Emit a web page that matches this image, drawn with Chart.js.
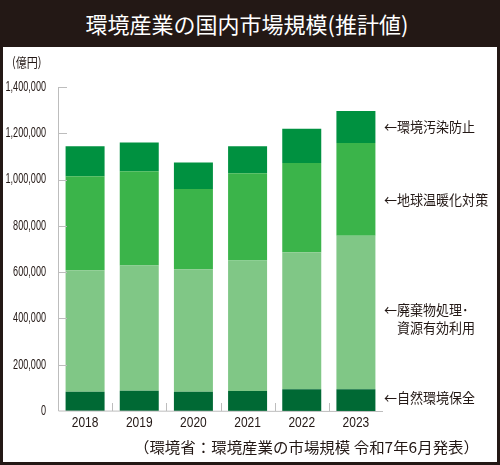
<!DOCTYPE html>
<html lang="ja">
<head>
    <meta charset="UTF-8">
    <title>環境産業の国内市場規模（推計値）</title>
    <style>
        body {
            margin: 0;
            padding: 0;
            background-color: #fff;
        }
        .frame {
            width: 500px;
            height: 465px;
            box-sizing: border-box;
            background-color: #231815;
            padding: 0 3px 3px 3px;
        }
        .title {
            height: 47px;
            line-height: 47px;
            color: #fff;
            text-align: center;
            font-family: "Noto Sans CJK JP", sans-serif;
            font-size: 22px;
            padding-right: 6px;
        }
        .box {
            position: relative;
            width: 494px;
            height: 415px;
            background-color: #fff;
        }
    </style>
</head>
<body>

<div class="frame">
    <div class="title">環境産業の国内市場規模(推計値)</div>
    <div class="box">
        <canvas id="chart"></canvas>
    </div>
</div>

<script src="https://cdn.jsdelivr.net/npm/chart.js"></script>
<script>
    const years = ['2018', '2019', '2020', '2021', '2022', '2023'];
    // 億円
    const shizenHozen = [83300, 87600, 83300, 86300, 93700, 93700];
    const haikibutsu = [525400, 541400, 529700, 564200, 592700, 663100];
    const ondankaTaisaku = [405800, 407000, 346700, 376900, 385600, 401500];
    const osenBoshi = [129500, 124000, 113900, 116600, 148000, 137700];
    const yTicks = [0, 200000, 400000, 600000, 800000, 1000000, 1200000, 1400000];

    const inkColor = '#231815';
    const axisColor = '#bdbdbd';
    const jpFont = '"Noto Sans CJK JP", sans-serif';
    const numFont = '"Liberation Sans", Arial, sans-serif';

    // the reference uses a condensed face, so text is squeezed horizontally
    function drawText(ctx, text, x, y, font, align, sx) {
        ctx.save();
        ctx.font = font;
        ctx.fillStyle = inkColor;
        ctx.textBaseline = 'middle';
        ctx.textAlign = align;
        ctx.translate(x, y);
        ctx.scale(sx, 1);
        ctx.fillText(text, 0, 0);
        ctx.restore();
    }

    // axis lines, inner tick marks, tick labels and the text round the plot
    const decorations = {
        id: 'decorations',
        afterDraw(chart) {
            const ctx = chart.ctx;
            const x = chart.scales.x, y = chart.scales.y;
            const left = chart.chartArea.left, right = chart.chartArea.right;
            const bottom = y.getPixelForValue(0);
            const top = y.getPixelForValue(yTicks[yTicks.length - 1]);

            ctx.save();
            ctx.strokeStyle = axisColor;
            ctx.lineWidth = 1;
            ctx.beginPath();
            ctx.moveTo(left + 0.5, top);
            ctx.lineTo(left + 0.5, bottom);
            ctx.lineTo(right, bottom + 0.5);
            yTicks.slice(1).forEach(v => {
                const py = Math.round(y.getPixelForValue(v)) + 0.5;
                ctx.moveTo(left, py);
                ctx.lineTo(left + 9, py);
            });
            for (let i = 1; i < years.length; i++) {
                const px = Math.round((x.getPixelForValue(i - 1) + x.getPixelForValue(i)) / 2) + 0.5;
                ctx.moveTo(px, bottom);
                ctx.lineTo(px, bottom - 8);
            }
            ctx.stroke();
            ctx.restore();

            yTicks.forEach(v => {
                drawText(ctx, v.toLocaleString('en-US'), left - 12, y.getPixelForValue(v),
                    '14px ' + numFont, 'right', 0.65);
            });
            years.forEach((lab, i) => {
                drawText(ctx, lab, x.getPixelForValue(i), bottom + 12, '15px ' + numFont, 'center', 0.8);
            });

            drawText(ctx, '(億円)', 9, 15, '13px ' + jpFont, 'left', 0.85);

            const lx = 381;
            const lf = '14px ' + jpFont;
            drawText(ctx, '←環境汚染防止', lx, 80, lf, 'left', 0.93);
            drawText(ctx, '←地球温暖化対策', lx, 153, lf, 'left', 0.93);
            drawText(ctx, '←廃棄物処理･', lx, 263, lf, 'left', 0.93);
            drawText(ctx, '資源有効利用', lx + 13, 281, lf, 'left', 0.93);
            drawText(ctx, '←自然環境保全', lx, 351, lf, 'left', 0.93);

            drawText(ctx, '（環境省：環境産業の市場規模 令和7年6月発表）', 476, 400, '15px ' + jpFont, 'right', 1.03);
        }
    };

    const ctx = document.getElementById('chart').getContext('2d');
    new Chart(ctx, {
        type: 'bar',
        data: {
            labels: years,
            datasets: [
                { label: '自然環境保全', data: shizenHozen, backgroundColor: '#006934' },
                { label: '廃棄物処理・資源有効利用', data: haikibutsu, backgroundColor: '#80c786' },
                { label: '地球温暖化対策', data: ondankaTaisaku, backgroundColor: '#3bb44a' },
                { label: '環境汚染防止', data: osenBoshi, backgroundColor: '#009140' }
            ]
        },
        options: {
            responsive: true,
            maintainAspectRatio: false,
            animation: false,
            datasets: {
                bar: { categoryPercentage: 1.0, barPercentage: 0.72, borderWidth: 0 }
            },
            layout: { padding: { top: 40, right: 114, bottom: 0, left: 0 } },
            plugins: {
                legend: { display: false },
                tooltip: { enabled: false },
                title: { display: false }
            },
            scales: {
                x: {
                    stacked: true,
                    grid: { display: false, drawTicks: false },
                    border: { display: false },
                    ticks: { display: false },
                    afterFit(scale) { scale.height = 51; }
                },
                y: {
                    stacked: true,
                    min: 0,
                    max: 1400000,
                    grid: { display: false, drawTicks: false },
                    border: { display: false },
                    afterBuildTicks(scale) {
                        scale.ticks = yTicks.map(v => ({ value: v }));
                    },
                    ticks: { display: false },
                    afterFit(scale) { scale.width = 55; }
                }
            }
        },
        plugins: [decorations]
    });
</script>
</body>
</html>
